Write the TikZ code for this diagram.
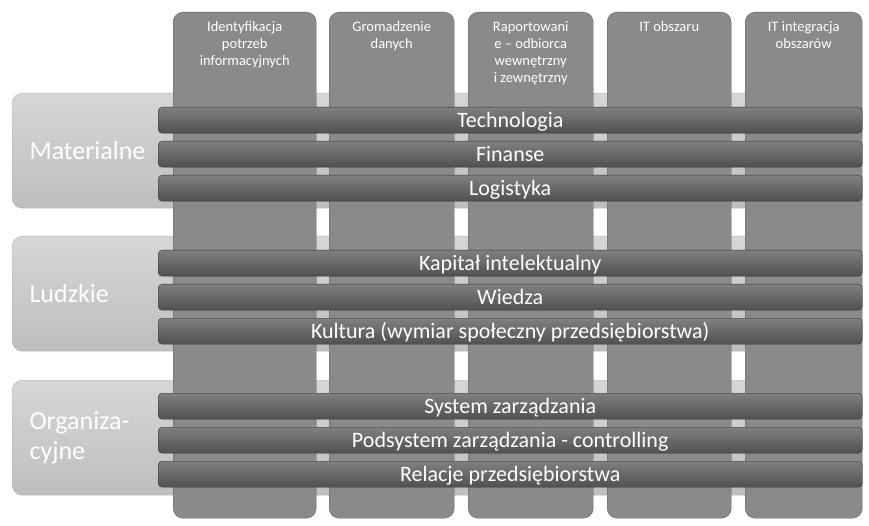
\documentclass[tikz,border=0pt]{standalone}
\usepackage{fontspec}
\setmainfont{Carlito}
\definecolor{grpTop}{HTML}{D6D6D6}
\definecolor{grpBot}{HTML}{BEBEBE}
\definecolor{colFill}{HTML}{8A8A8A}
\definecolor{colLine}{HTML}{5E5E5E}
\definecolor{barTop}{HTML}{808080}
\definecolor{barBot}{HTML}{505050}
\definecolor{barLine}{HTML}{353535}
\begin{document}
\begin{tikzpicture}[x=1pt, y=-1pt,
    grp/.style={rounded corners=10pt, draw=gray!55, top color=grpTop, bottom color=grpBot,
                minimum width=848pt, minimum height=115pt, anchor=north west, inner sep=0pt},
    grplbl/.style={anchor=west, text=white, align=left, font=\fontsize{26}{30}\selectfont},
    col/.style={rounded corners=10pt, draw=colLine, fill=colFill, minimum height=506pt,
                anchor=north west, inner sep=0pt},
    hdr/.style={anchor=north, text=white, align=center, font=\fontsize{14.5}{17}\selectfont},
    bar/.style={rounded corners=4pt, draw=barLine, top color=barTop, bottom color=barBot,
                minimum width=704pt, minimum height=26pt, anchor=north west, inner sep=0pt,
                text height=17pt, text depth=3pt,
                text=white, font=\fontsize{22}{24}\selectfont}
]
\useasboundingbox[fill=white] (0,0) rectangle (869,526);

% groups
\node[grp] (mat) at (12, 93)  {};
\node[grp] (lud) at (12, 236) {};
\node[grp] (org) at (12, 380) {};
\node[grplbl] (matl) at ([xshift=14pt]mat.west) {Materialne};
\node[grplbl] (ludl) at ([xshift=14pt]lud.west) {Ludzkie};
\node[grplbl] (orgl) at ([xshift=14pt]org.west) {Organiza-\\cyjne};

% columns
\foreach \i/\x/\w/\t in {1/173/143/{Identyfikacja\\potrzeb\\informacyjnych},
                         2/329/125/{Gromadzenie\\danych},
                         3/468/125/{Raportowani\\e -- odbiorca\\wewnętrzny\\i zewnętrzny},
                         4/607/124/{IT obszaru},
                         5/745/117/{IT integracja\\obszarów}}{
  \node[col, minimum width=\w pt] (c\i) at (\x, 12) {};
  \node[hdr] (h\i) at ([yshift=-6pt]c\i.north) {\t};
}

% bars
\node[bar] (tech) at (158, 107) {Technologia};
\node[bar] (fin)  at (158, 141) {Finanse};
\node[bar] (log)  at (158, 175) {Logistyka};
\node[bar] (kap)  at (158, 250) {Kapitał intelektualny};
\node[bar] (wie)  at (158, 284) {Wiedza};
\node[bar] (kul)  at (158, 318) {Kultura (wymiar społeczny przedsiębiorstwa)};
\node[bar] (sys)  at (158, 393) {System zarządzania};
\node[bar] (pod)  at (158, 427) {Podsystem zarządzania - controlling};
\node[bar] (rel)  at (158, 461) {Relacje przedsiębiorstwa};
\end{tikzpicture}
\end{document}
